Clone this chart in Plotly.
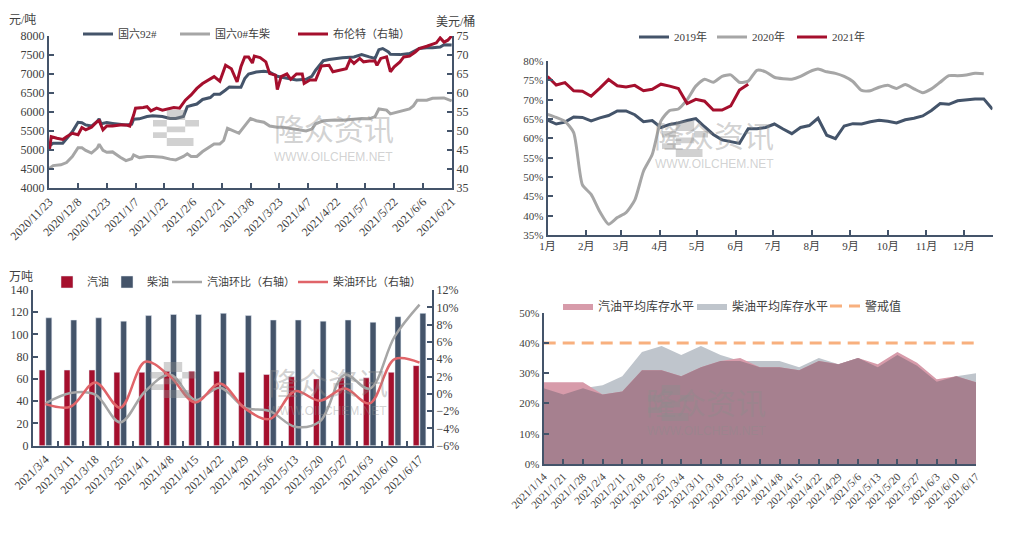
import plotly.graph_objects as go
import pandas as pd

W, H = 1010, 536
NAVY = '#44546A'
GRAY = '#A6A6A6'
RED = '#A50F2D'
LRED = '#E06469'
PINK = '#D79BAA'
LGRAY = '#BFC5CC'
MAUVE = '#A6808F'
ORANGE = '#F8B07E'
TXT = '#404040'
SERIF = "'Liberation Serif', 'Noto Sans CJK SC', serif"

# ---------------- top-left: prices ----------------
gas92_dates = ["2020-11-23","2020-11-25","2020-11-30","2020-12-02","2020-12-05","2020-12-08","2020-12-10","2020-12-12","2020-12-15","2020-12-18","2020-12-19","2020-12-20","2020-12-23","2020-12-26","2020-12-30","2021-01-02","2021-01-05","2021-01-06","2021-01-09","2021-01-13","2021-01-16","2021-01-21","2021-01-25","2021-01-28","2021-02-01","2021-02-03","2021-02-05","2021-02-08","2021-02-11","2021-02-15","2021-02-17","2021-02-20","2021-02-23","2021-02-25","2021-03-01","2021-03-03","2021-03-05","2021-03-07","2021-03-11","2021-03-15","2021-03-18","2021-03-22","2021-03-25","2021-03-29","2021-04-01","2021-04-06","2021-04-09","2021-04-11","2021-04-15","2021-04-18","2021-04-21","2021-04-25","2021-05-01","2021-05-05","2021-05-09","2021-05-12","2021-05-14","2021-05-16","2021-05-19","2021-05-20","2021-05-25","2021-05-30","2021-06-03","2021-06-04","2021-06-08","2021-06-11","2021-06-15","2021-06-17","2021-06-21"]
gas92_vals = [5100,5180,5180,5310,5480,5730,5720,5660,5630,5750,5820,5690,5720,5700,5680,5660,5680,5810,5820,5880,5900,5880,5830,5830,5880,6140,6170,6210,6330,6380,6470,6470,6580,6660,6650,6650,6880,7000,7050,7070,7050,6940,6910,6880,6840,6860,6940,7100,7350,7380,7400,7430,7450,7510,7450,7410,7640,7670,7580,7520,7510,7540,7640,7670,7690,7690,7710,7770,7760]

diesel_dates = ["2020-11-23","2020-11-25","2020-11-29","2020-12-02","2020-12-05","2020-12-08","2020-12-10","2020-12-12","2020-12-15","2020-12-18","2020-12-19","2020-12-21","2020-12-23","2020-12-26","2020-12-30","2021-01-02","2021-01-05","2021-01-06","2021-01-09","2021-01-13","2021-01-16","2021-01-21","2021-01-25","2021-01-28","2021-02-01","2021-02-03","2021-02-05","2021-02-08","2021-02-11","2021-02-15","2021-02-17","2021-02-20","2021-02-22","2021-02-24","2021-02-27","2021-03-02","2021-03-06","2021-03-08","2021-03-11","2021-03-15","2021-03-18","2021-03-22","2021-03-25","2021-03-29","2021-04-01","2021-04-06","2021-04-09","2021-04-11","2021-04-15","2021-04-21","2021-04-25","2021-05-01","2021-05-05","2021-05-09","2021-05-12","2021-05-14","2021-05-18","2021-05-20","2021-05-25","2021-05-30","2021-06-01","2021-06-03","2021-06-08","2021-06-11","2021-06-17","2021-06-19","2021-06-21"]
diesel_vals = [4520,4590,4610,4670,4830,5060,5060,4990,4920,5050,5150,4990,4940,4950,4810,4720,4770,4870,4800,4830,4830,4810,4760,4740,4830,4900,4830,4830,4960,5090,5160,5160,5250,5570,5500,5440,5700,5830,5770,5730,5630,5600,5600,5560,5550,5500,5550,5690,5770,5790,5780,5810,5830,5820,5880,6080,6050,5950,6010,6080,6160,6310,6310,6360,6370,6330,6290]

brent_dates = ["2020-11-23","2020-11-24","2020-11-27","2020-11-30","2020-12-02","2020-12-05","2020-12-08","2020-12-10","2020-12-12","2020-12-15","2020-12-18","2020-12-19","2020-12-21","2020-12-23","2020-12-26","2020-12-30","2021-01-02","2021-01-04","2021-01-06","2021-01-07","2021-01-11","2021-01-13","2021-01-15","2021-01-18","2021-01-21","2021-01-24","2021-01-27","2021-01-30","2021-02-02","2021-02-05","2021-02-08","2021-02-11","2021-02-15","2021-02-17","2021-02-20","2021-02-22","2021-02-23","2021-02-26","2021-03-01","2021-03-03","2021-03-05","2021-03-07","2021-03-09","2021-03-10","2021-03-13","2021-03-16","2021-03-18","2021-03-21","2021-03-22","2021-03-24","2021-03-27","2021-03-29","2021-04-01","2021-04-04","2021-04-05","2021-04-08","2021-04-11","2021-04-14","2021-04-18","2021-04-20","2021-04-23","2021-04-27","2021-04-29","2021-05-01","2021-05-04","2021-05-06","2021-05-09","2021-05-12","2021-05-13","2021-05-15","2021-05-18","2021-05-20","2021-05-22","2021-05-25","2021-05-27","2021-05-30","2021-06-02","2021-06-04","2021-06-08","2021-06-11","2021-06-13","2021-06-15","2021-06-17","2021-06-19","2021-06-21"]
brent_vals = [44.8,48.5,48.1,47.8,48.5,49.4,49.0,50.9,50.3,51.0,52.5,52.7,50.3,51.3,51.3,51.6,51.6,51.3,54.2,56.0,56.2,56.4,55.3,56.0,55.5,55.8,56.2,56.0,58.1,59.5,61.2,62.5,63.6,64.3,63.1,65.6,67.3,66.4,62.9,66.9,69.5,69.5,67.9,69.7,69.3,68.2,65.1,64.7,60.9,64.3,65.0,63.6,65.0,65.0,62.5,63.4,63.4,67.1,67.3,65.6,66.0,66.4,68.8,67.8,69.1,68.2,68.4,68.4,67.3,69.1,69.5,65.6,66.9,68.2,69.5,69.7,70.8,71.7,72.3,72.8,73.2,74.5,73.4,73.9,75.0]

# ---------------- top-right: weekly run rate ----------------
rate_2019 = [64.7,63.7,64.2,65.5,65.4,64.5,65.3,65.9,67.1,67.1,66.1,64.3,64.6,62.8,63.6,64.0,64.6,65.1,63.0,61.0,59.6,59.1,58.7,62.5,62.5,62.8,63.7,62.4,61.2,62.8,63.3,65.2,60.8,59.9,63.2,63.8,63.7,64.3,64.7,64.4,64.0,64.8,65.2,65.8,67.2,69.0,68.8,69.7,70.0,70.2,70.2,67.5]
rate_2020 = [66.2,65.4,64.4,61.5,48.0,45.5,41.0,37.8,39.5,40.8,44.0,51.5,55.8,64.5,67.2,67.6,70.0,73.5,75.3,74.5,76.0,76.4,74.5,74.8,77.6,77.2,75.8,75.4,75.3,76.0,77.2,77.9,77.2,76.8,76.0,74.7,72.4,72.3,73.2,73.7,72.9,73.9,72.8,71.8,72.8,74.5,76.2,76.2,76.4,76.8,76.7]
rate_2021 = [76.0,73.8,74.4,72.3,72.2,70.9,73.0,75.2,73.6,73.3,73.7,72.3,72.7,74.0,73.5,72.9,69.0,70.1,69.6,67.3,67.3,68.4,72.5,74.0]
week_dates = pd.date_range("2021-01-01", periods=52, freq="7D")

# ---------------- bottom-left: inventories ----------------
inv_weeks = ["2021/3/4","2021/3/11","2021/3/18","2021/3/25","2021/4/1","2021/4/8","2021/4/15","2021/4/22","2021/4/29","2021/5/6","2021/5/13","2021/5/20","2021/5/27","2021/6/3","2021/6/10","2021/6/17"]
gas_inv = [68,68,68,66,66,67,67,67,66,64,62,60,61,61,66,72]
diesel_inv = [115,113,115,112,117,118,118,119,117,113,113,112,113,111,116,119]
gas_mom = [-1.1,0.1,-0.1,-3.3,0.3,2.2,-0.7,0.7,-1.6,-2.0,-3.8,-3.2,2.2,0.6,6.6,10.3]
diesel_mom = [-1.2,-1.5,1.3,-1.6,3.7,2.0,-1.0,1.2,-1.7,-2.9,0.3,-0.8,0.6,-1.1,4.0,3.6]

# ---------------- bottom-right: inventory levels ----------------
lvl_weeks = ["2021/1/14","2021/1/21","2021/1/28","2021/2/4","2021/2/11","2021/2/18","2021/2/25","2021/3/4","2021/3/11","2021/3/18","2021/3/25","2021/4/1","2021/4/8","2021/4/15","2021/4/22","2021/4/29","2021/5/6","2021/5/13","2021/5/20","2021/5/27","2021/6/3","2021/6/10","2021/6/17"]
gas_lvl = [27,27,27,23,24,31,31,29,32,34,35,32,32,31,34,33,35,33,37,33.5,28,29,27]
diesel_lvl = [25,23,25,26,29,37,39,36,39,36,34,34,34,32,35,33,35,32,36,32.5,27.2,29,30]
warn_lvl = [40] * len(lvl_weeks)

for a, b in [(gas92_dates, gas92_vals), (diesel_dates, diesel_vals), (brent_dates, brent_vals)]:
    assert len(a) == len(b)


def fx(p):
    return p / W


def fy(p):
    return 1 - p / H


fig = go.Figure()
legends = {}
_leg_count = [0]


def new_legend(text_x, y, size):
    _leg_count[0] += 1
    lid = 'legend' if _leg_count[0] == 1 else f'legend{_leg_count[0]}'
    legends[lid] = dict(x=fx(text_x - 40), y=fy(y), orientation='h', bgcolor='rgba(0,0,0,0)',
                        borderwidth=0, font=dict(family=SERIF, size=size, color=TXT),
                        xanchor='left', yanchor='middle', itemwidth=30, tracegroupgap=0)
    return lid


# top-left traces
fig.add_trace(go.Scatter(x=gas92_dates, y=gas92_vals, name='国六92#', mode='lines',
                         line=dict(color=NAVY, width=3), xaxis='x', yaxis='y',
                         legend=new_legend(118, 34, 11)))
fig.add_trace(go.Scatter(x=diesel_dates, y=diesel_vals, name='国六0#车柴', mode='lines',
                         line=dict(color=GRAY, width=3), xaxis='x', yaxis='y',
                         legend=new_legend(215, 34, 11)))
fig.add_trace(go.Scatter(x=brent_dates, y=brent_vals, name='布伦特（右轴）', mode='lines',
                         line=dict(color=RED, width=3), xaxis='x', yaxis='y2',
                         legend=new_legend(333, 34, 11)))

# top-right traces
fig.add_trace(go.Scatter(x=week_dates[:len(rate_2019)], y=rate_2019, name='2019年', mode='lines',
                         line=dict(color=NAVY, width=3), xaxis='x2', yaxis='y3',
                         legend=new_legend(674, 37, 11)))
fig.add_trace(go.Scatter(x=week_dates[:len(rate_2020)], y=rate_2020, name='2020年', mode='lines',
                         line=dict(color=GRAY, width=3, shape='spline', smoothing=0.6),
                         xaxis='x2', yaxis='y3', legend=new_legend(752, 37, 11)))
fig.add_trace(go.Scatter(x=week_dates[:len(rate_2021)], y=rate_2021, name='2021年', mode='lines',
                         line=dict(color=RED, width=3), xaxis='x2', yaxis='y3',
                         legend=new_legend(832, 37, 11)))

# bottom-left traces
fig.add_trace(go.Bar(x=inv_weeks, y=gas_inv, name='汽油', marker=dict(color=RED),
                     xaxis='x3', yaxis='y4', offsetgroup='g', legend=new_legend(87, 282, 11)))
fig.add_trace(go.Bar(x=inv_weeks, y=diesel_inv, name='柴油', marker=dict(color=NAVY),
                     xaxis='x3', yaxis='y4', offsetgroup='d', legend=new_legend(147, 282, 11)))
fig.add_trace(go.Scatter(x=inv_weeks, y=gas_mom, name='汽油环比（右轴）', mode='lines',
                         line=dict(color=GRAY, width=2.5, shape='spline', smoothing=1.0),
                         xaxis='x3', yaxis='y5', legend=new_legend(207, 282, 11)))
fig.add_trace(go.Scatter(x=inv_weeks, y=diesel_mom, name='柴油环比（右轴）', mode='lines',
                         line=dict(color=LRED, width=2.5, shape='spline', smoothing=1.0),
                         xaxis='x3', yaxis='y5', legend=new_legend(333, 282, 11)))

# bottom-right traces
overlap = [min(g, d) for g, d in zip(gas_lvl, diesel_lvl)]
leg_gas = new_legend(598, 306, 12)
leg_die = new_legend(732, 306, 12)
leg_warn = new_legend(865, 306, 12)
fig.add_trace(go.Scatter(x=lvl_weeks, y=diesel_lvl, name='柴油平均库存水平', mode='lines',
                         line=dict(width=0, color=LGRAY), fill='tozeroy', fillcolor=LGRAY,
                         xaxis='x4', yaxis='y6', legend=leg_die))
fig.add_trace(go.Scatter(x=lvl_weeks, y=gas_lvl, name='汽油平均库存水平', mode='lines',
                         line=dict(width=0, color=PINK), fill='tozeroy', fillcolor=PINK,
                         xaxis='x4', yaxis='y6', legend=leg_gas))
fig.add_trace(go.Scatter(x=lvl_weeks, y=overlap, name='overlap', mode='lines', showlegend=False,
                         line=dict(width=0, color=MAUVE), fill='tozeroy', fillcolor=MAUVE,
                         xaxis='x4', yaxis='y6', hoverinfo='skip'))
fig.add_trace(go.Scatter(x=lvl_weeks, y=warn_lvl, name='警戒值', mode='lines',
                         line=dict(color=ORANGE, width=3, dash='12px,7px'),
                         xaxis='x4', yaxis='y6', legend=leg_warn))

axis_common = dict(showline=True, linecolor=NAVY, linewidth=2, ticks='inside', ticklen=5,
                   tickwidth=2, tickcolor=NAVY, showgrid=False, zeroline=False, automargin=False,
                   tickfont=dict(family=SERIF, size=12, color=TXT))
small_font = dict(family=SERIF, size=11, color=TXT)

fig.update_layout(
    width=W, height=H, autosize=False,
    margin=dict(l=0, r=0, t=0, b=0, pad=0, autoexpand=False),
    paper_bgcolor='white', plot_bgcolor='rgba(0,0,0,0)',
    font=dict(family=SERIF, color=TXT),
    barmode='group', bargap=0.46, bargroupgap=0.12,
    # top-left
    xaxis=dict(domain=[fx(49), fx(452)], anchor='y', type='date',
               range=['2020-11-22 20:00', '2021-06-21 04:00'],
               tick0='2020-11-23', dtick=15 * 86400000, tickformat='%Y/%-m/%-d',
               tickangle=-45, **axis_common),
    yaxis=dict(domain=[fy(188), fy(36)], anchor='x', range=[4000, 8000], dtick=500, **axis_common),
    yaxis2=dict(overlaying='y', side='right', anchor='x', range=[35, 75], dtick=5, **axis_common),
    # top-right
    xaxis2=dict(domain=[fx(547.5), fx(992.5)], anchor='y3', type='date',
                range=['2021-01-01', '2021-12-24'], tick0='2021-01-01', dtick='M1',
                tickformat='%-m月', tickangle=0, **{**axis_common, 'tickfont': small_font}),
    yaxis3=dict(domain=[fy(235), fy(61)], anchor='x2', range=[35, 80], dtick=5, ticksuffix='%',
                **{**axis_common, 'tickfont': small_font}),
    # bottom-left
    xaxis3=dict(domain=[fx(33), fx(432)], anchor='y4', type='category', tickson='boundaries',
                tickangle=-45, **axis_common),
    yaxis4=dict(domain=[fy(445.7), fy(290)], anchor='x3', range=[0, 140], dtick=20, **axis_common),
    yaxis5=dict(overlaying='y4', side='right', anchor='x3', range=[-6, 12], dtick=2, ticksuffix='%',
                **axis_common),
    # bottom-right
    xaxis4=dict(domain=[fx(543.7), fx(976)], anchor='y6', type='category', range=[0, 22],
                tickangle=-45, **{**axis_common, 'tickfont': small_font}),
    yaxis6=dict(domain=[fy(464), fy(312.7)], anchor='x4', range=[0, 50], dtick=10, ticksuffix='%',
                **{**axis_common, 'tickfont': small_font}),
    **legends,
)

# axis unit labels
for txt, x, y in [('元/吨', 7, 20), ('美元/桶', 434, 22), ('万吨', 7, 277)]:
    fig.add_annotation(text=txt, x=fx(x), y=fy(y), xref='paper', yref='paper', showarrow=False,
                       xanchor='left', yanchor='middle', font=dict(family=SERIF, size=12, color=TXT))

# watermarks
WM = 'rgba(140,140,140,0.40)'


def logo_path(x0, y0, w, h):
    def R(a, b, c, d):
        X0, X1 = fx(x0 + a * w), fx(x0 + c * w)
        Y0, Y1 = fy(y0 + b * h), fy(y0 + d * h)
        return f'M{X0},{Y0} L{X1},{Y0} L{X1},{Y1} L{X0},{Y1} Z '
    return (R(0, 0, 1, 0.28) + R(0, 0, 0.3, 1) + R(0, 0.46, 1, 0.62) +
            R(0.7, 0, 1, 0.62) + R(0, 0.78, 0.88, 1))


for lx, ly, cx, cy in [(153, 110, 272, 127), (662, 121, 776, 134), (150, 362, 266, 381), (648, 385, 768, 401)]:
    fig.add_shape(type='path', path=logo_path(lx, ly, 46, 36), xref='paper', yref='paper',
                  fillcolor=WM, line=dict(width=0), layer='above')
    fig.add_annotation(text='隆众资讯', x=fx(cx), y=fy(cy), xref='paper', yref='paper', showarrow=False,
                       yanchor='middle', font=dict(family="'Noto Sans CJK SC'", size=30, color=WM))
    fig.add_annotation(text='WWW.OILCHEM.NET', x=fx(cx), y=fy(cy + 21), xref='paper', yref='paper',
                       showarrow=False, yanchor='top', font=dict(family='Liberation Sans', size=12, color=WM))

fig.write_html('out.html', config={'displayModeBar': False},
               post_script="document.body.style.margin='0px';")
